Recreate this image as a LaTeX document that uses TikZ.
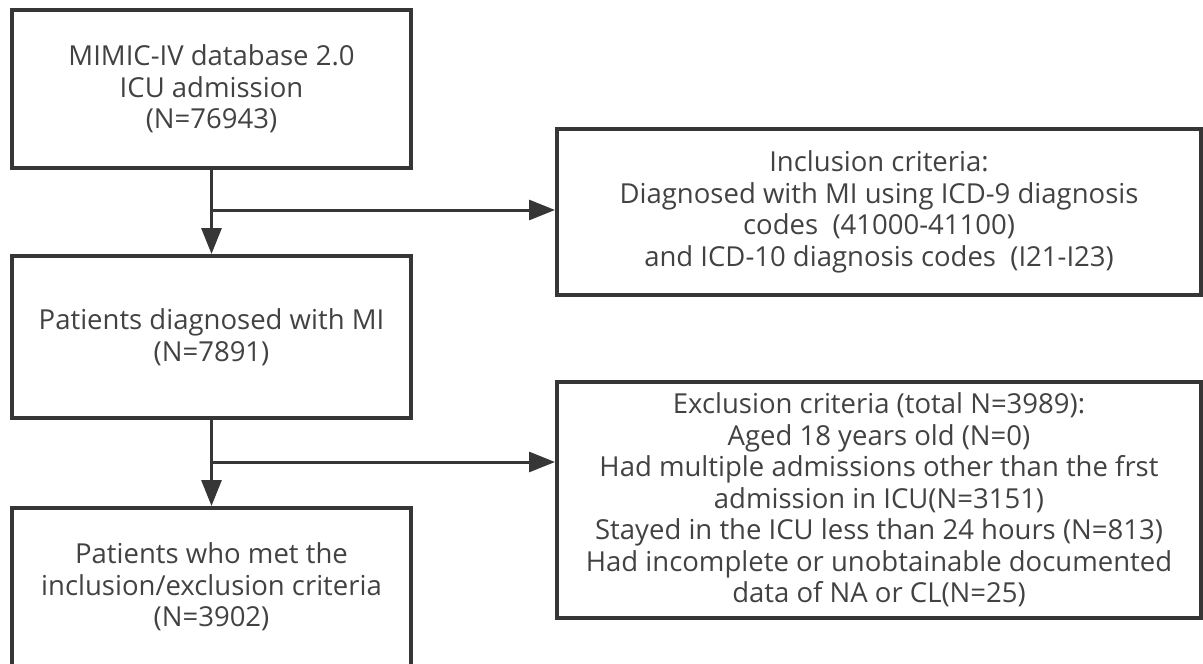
\documentclass[tikz,border=0pt]{standalone}
\usepackage{fontspec}
\setmainfont{Open Sans}
\usetikzlibrary{arrows.meta}
\definecolor{linegray}{HTML}{363636}
\definecolor{textgray}{HTML}{424242}
\begin{document}
\begin{tikzpicture}[x=1pt,y=-1pt,
        box/.style={draw=linegray,line width=4pt,align=center,text=textgray,
            font=\fontsize{27.5}{31.5}\selectfont,inner sep=0pt},
        leftbox/.style={box,minimum width=399pt},
        rightbox/.style={box,minimum width=644pt},
        flow/.style={draw=linegray,line width=3pt,-{Triangle[length=26pt,width=20pt]}}]
        \useasboundingbox (0,0) rectangle (1203,664);
        \clip (0,0) rectangle (1203,664);
        % left column
        \node[leftbox,minimum height=158pt] (src) at (211.5,89) {MIMIC-IV database 2.0\\ICU admission\\(N=76943)};
        \node[leftbox,minimum height=162pt] (mi) at (211.5,337) {Patients diagnosed with MI\\(N=7891)};
        \node[leftbox,minimum height=158pt] (final) at (211.5,587) {Patients who met the\\inclusion/exclusion criteria\\(N=3902)};
        % right column
        \node[rightbox,minimum height=166pt] (incl) at (879,212) {Inclusion criteria:\\Diagnosed with MI using ICD-9 diagnosis\\codes\ \ (41000-41100)\\and ICD-10 diagnosis codes\ \ (I21-I23)};
        \node[rightbox,minimum height=236pt] (excl) at (879,500) {Exclusion criteria (total N=3989):\\Aged 18 years old (N=0)\\Had multiple admissions other than the frst\\admission in ICU(N=3151)\\Stayed in the ICU less than 24 hours (N=813)\\Had incomplete or unobtainable documented\\data of NA or CL(N=25)};
        % arrows
        \coordinate (b1) at (211.5,210);
        \coordinate (b2) at (211.5,462);
        \draw[flow] (src) -- (mi);
        \draw[flow] (b1) -- (b1 -| incl.west);
        \draw[flow] (mi) -- (final);
        \draw[flow] (b2) -- (b2 -| excl.west);
\end{tikzpicture}
\end{document}
